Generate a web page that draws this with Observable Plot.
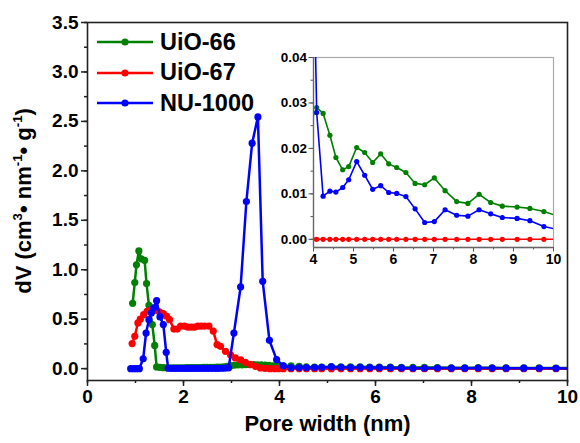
<!DOCTYPE html>
<html>
<head>
<meta charset="utf-8">
<script src="https://cdn.jsdelivr.net/npm/d3@7"></script>
<script src="https://cdn.jsdelivr.net/npm/@observablehq/plot@0.6"></script>
<style>
  body { margin: 0; background: #fff; }
  #wrap { position: relative; width: 580px; height: 443px; overflow: hidden;
          font-family: "Liberation Sans", Arial, sans-serif; color: #000; }
  #wrap > svg, #wrap > div { position: absolute; }
  .legend-row { position: absolute; display: flex; align-items: center; height: 30px;
                font-size: 23.5px; font-weight: bold; white-space: nowrap; }
  .legend-row svg { margin-right: 6px; }
  #ytitle { width: 300px; text-align: center; font-size: 22px; font-weight: bold;
            line-height: 26px; transform: rotate(-90deg); white-space: nowrap; }
  #ytitle sup { font-size: 0.6em; vertical-align: 0.7em; line-height: 0; }
</style>
</head>
<body>
<div id="wrap"></div>
<script>
// Pore size distributions of three Zr-MOFs
const seriesNames = ["UiO-66", "UiO-67", "NU-1000"];
const seriesColors = ["#008000", "#ff0000", "#0000ff"];

// UiO-66
const uio66Width = [0.94, 0.985, 1.02, 1.07, 1.12, 1.19, 1.23, 1.28, 1.35, 1.40,
  1.44, 1.51, 1.58, 1.65, 1.72, 1.79, 1.86, 1.93, 2.00, 2.07,
  2.14, 2.21, 2.28, 2.35, 2.42, 2.49, 2.56, 2.63, 2.70, 2.77,
  2.84, 2.91, 2.98, 3.06, 3.14, 3.22, 3.30, 3.38, 3.46, 3.54,
  3.62, 3.70, 3.78, 3.86, 3.94,
  4.08, 4.24, 4.41, 4.56, 4.73, 4.88, 5.08, 5.28, 5.48, 5.68, 5.88, 6.08, 6.31,
  6.54, 6.78, 7.02, 7.29, 7.58, 7.86, 8.14, 8.43, 8.72, 9.09, 9.41, 9.76, 10.15];
const uio66DV = [0.66, 0.87, 1.05, 1.19, 1.11, 1.095, 0.86, 0.64, 0.445, 0.235,
  0.017, 0.012, 0.010, 0.009, 0.009, 0.009, 0.009, 0.009, 0.009, 0.010,
  0.010, 0.010, 0.011, 0.011, 0.012, 0.012, 0.013, 0.014, 0.015, 0.016,
  0.018, 0.024, 0.030, 0.034, 0.037, 0.039, 0.040, 0.041, 0.040, 0.039,
  0.037, 0.035, 0.032, 0.029, 0.026,
  0.0290, 0.0277, 0.0229, 0.0180, 0.0153, 0.0160, 0.0202, 0.0191, 0.0169, 0.0188, 0.0166, 0.0158, 0.0147,
  0.0123, 0.0120, 0.0135, 0.0107, 0.0083, 0.0079, 0.0099, 0.0081, 0.0073, 0.0071, 0.0068, 0.0061, 0.0050];

// UiO-67
const uio67Width = [0.93, 0.985, 1.05, 1.10, 1.17, 1.24, 1.30, 1.36, 1.43, 1.50,
  1.58, 1.65, 1.71, 1.80, 1.87, 1.94, 2.02, 2.09, 2.16, 2.23,
  2.30, 2.37, 2.44, 2.53, 2.62, 2.70, 2.77, 2.875, 2.98, 3.08,
  3.19, 3.29, 3.40, 3.50, 3.60, 3.70, 3.80, 3.90, 3.98,
  4.08, 4.24, 4.41, 4.56, 4.73, 4.88, 5.08, 5.28, 5.48, 5.68, 5.88, 6.08, 6.31,
  6.54, 6.78, 7.02, 7.29, 7.58, 7.86, 8.14, 8.43, 8.72, 9.09, 9.41, 9.76, 10.15];
const uio67DV = [0.253, 0.327, 0.462, 0.50, 0.546, 0.58, 0.59, 0.60, 0.59, 0.575,
  0.556, 0.529, 0.495, 0.40, 0.40, 0.43, 0.43, 0.42, 0.42, 0.42,
  0.43, 0.43, 0.43, 0.43, 0.38, 0.243, 0.226, 0.175, 0.14, 0.108,
  0.09, 0.064, 0.04, 0.023, 0.007, 0.002, 0, 0, 0,
  0, 0, 0, 0, 0, 0, 0, 0, 0, 0, 0, 0, 0,
  0, 0, 0, 0, 0, 0, 0, 0, 0, 0, 0, 0, 0];

// NU-1000
const nu1000Width = [0.90, 0.96, 1.02, 1.08, 1.16, 1.22, 1.28, 1.33, 1.38, 1.44,
  1.51, 1.58, 1.64, 1.68, 1.75, 1.82, 1.89, 1.96, 2.03, 2.10,
  2.17, 2.24, 2.31, 2.38, 2.45, 2.52, 2.59, 2.66, 2.73, 2.80,
  2.87, 2.94, 3.05, 3.19, 3.31, 3.43, 3.55, 3.65, 3.79, 3.94,
  4.08, 4.24, 4.41, 4.56, 4.73, 4.88, 5.08, 5.28, 5.48, 5.68, 5.88, 6.08, 6.31,
  6.54, 6.78, 7.02, 7.29, 7.58, 7.86, 8.14, 8.43, 8.72, 9.09, 9.41, 9.76, 10.15];
const nu1000DV = [0, 0, 0, 0, 0.10, 0.36, 0.495, 0.563, 0.614, 0.687,
  0.523, 0.445, 0.165, 0.004, 0.002, 0.002, 0.002, 0.002, 0.002, 0.002,
  0.002, 0.002, 0.002, 0.002, 0.002, 0.002, 0.003, 0.003, 0.003, 0.004,
  0.005, 0.008, 0.36, 0.826, 1.69, 2.28, 2.545, 0.883, 0.286, 0.091,
  0.0279, 0.0095, 0.0106, 0.0104, 0.0114, 0.0131, 0.0171, 0.0141, 0.0110, 0.0118, 0.0103, 0.0101, 0.0094,
  0.0067, 0.0037, 0.0039, 0.0065, 0.0053, 0.0051, 0.0065, 0.0056, 0.0048, 0.0046, 0.0041, 0.0028, 0.0021];

// Axis ticks
const xTicks = [0, 2, 4, 6, 8, 10];
const yTicks = [0, 0.5, 1.0, 1.5, 2.0, 2.5, 3.0, 3.5];
const insetXTicks = [4, 5, 6, 7, 8, 9, 10];
const insetYTicks = [0, 0.01, 0.02, 0.03, 0.04];
const xTitle = "Pore width (nm)";

const xDomain = [0, 10];
const yDomain = [-0.12, 3.5];
const insetXDomain = [4, 10];
const insetYDomain = [-0.0018, 0.04];

const widths = [uio66Width, uio67Width, nu1000Width];
const values = [uio66DV, uio67DV, nu1000DV];
const series = seriesNames.map((name, k) =>
  widths[k].map((w, i) => ({name, width: w, dv: values[k][i]})));

const font = "Liberation Sans, Arial, sans-serif";
const ink = "#222";

function seriesMarks(r, sw) {
  return series.flatMap((rows, k) => [
    Plot.line(rows, {x: "width", y: "dv", stroke: seriesColors[k], strokeWidth: sw, clip: true}),
    Plot.dot(rows, {x: "width", y: "dv", fill: seriesColors[k], r, clip: true})
  ]);
}

const main = Plot.plot({
  width: 580, height: 443,
  marginLeft: 87, marginRight: 13, marginTop: 22, marginBottom: 63,
  x: {domain: xDomain},
  y: {domain: yDomain},
  style: {fontFamily: font, fontWeight: "bold", color: ink, background: "transparent", overflow: "visible"},
  marks: [
    Plot.axisX({ticks: d3.range(0, 10.01, 1), tickSize: 3, text: null, label: null, strokeWidth: 1.5}),
    Plot.axisX({ticks: xTicks, tickSize: 6, tickPadding: 3, fontSize: 19, label: null, strokeWidth: 1.5,
                tickFormat: d3.format("d"), fill: "#000"}),
    Plot.axisY({ticks: d3.range(0, 3.51, 0.25), tickSize: 3, text: null, label: null, strokeWidth: 1.5}),
    Plot.axisY({ticks: yTicks, tickSize: 6, tickPadding: 3, fontSize: 19, label: null, strokeWidth: 1.5,
                tickFormat: d3.format(".1f"), fill: "#000"}),
    ...seriesMarks(3.6, 2.5),
    Plot.frame({stroke: ink, strokeWidth: 1.6}),
    Plot.text([xTitle], {frameAnchor: "bottom", dy: 50, fontSize: 22, fontWeight: "bold", fill: "#000"})
  ]
});
main.style.left = "0px";
main.style.top = "0px";

const inset = Plot.plot({
  width: 300, height: 230,
  marginLeft: 43, marginRight: 17, marginTop: 12, marginBottom: 28,
  x: {domain: insetXDomain},
  y: {domain: insetYDomain},
  style: {fontFamily: font, fontWeight: "bold", color: "#555", background: "transparent", overflow: "visible"},
  marks: [
    Plot.frame({stroke: "#aaa", strokeWidth: 1.2}),
    Plot.axisX({ticks: d3.range(4, 10.01, 0.5), tickSize: 2.5, text: null, label: null}),
    Plot.axisX({ticks: insetXTicks, tickSize: 4.5, tickPadding: 2, fontSize: 14, label: null,
                tickFormat: d3.format("d"), fill: "#000"}),
    Plot.axisY({ticks: d3.range(0, 0.0401, 0.005), tickSize: 2.5, text: null, label: null}),
    Plot.axisY({ticks: insetYTicks, tickSize: 4.5, tickPadding: 2, fontSize: 13.5, label: null,
                tickFormat: d3.format(".2f"), fill: "#000"}),
    ...seriesMarks(2.6, 1.6),
    Plot.ruleX([insetXDomain[0]], {stroke: "#666", strokeWidth: 1.3}),
    Plot.ruleY([insetYDomain[0]], {stroke: "#666", strokeWidth: 1.3})
  ]
});
inset.style.left = "270px";
inset.style.top = "45px";

const wrap = document.getElementById("wrap");
wrap.appendChild(main);
wrap.appendChild(inset);

// Legend (line + marker swatches)
seriesNames.forEach((name, k) => {
  const row = document.createElement("div");
  row.className = "legend-row";
  row.style.left = "96px";
  row.style.top = (27 + k * 30.5) + "px";
  const c = seriesColors[k];
  row.innerHTML = `<svg width="58" height="14"><line x1="1" x2="57" y1="7" y2="7" stroke="${c}" stroke-width="2.5"/>` +
    `<circle cx="29" cy="7" r="3.6" fill="${c}"/></svg><span>${name}</span>`;
  wrap.appendChild(row);
});

// Y-axis title with superscripts
const yt = document.createElement("div");
yt.id = "ytitle";
yt.innerHTML = "dV (cm<sup>3</sup>• nm<sup>-1</sup>• g<sup>-1</sup>)";
yt.style.left = (24 - 150) + "px";
yt.style.top = (201 - 13) + "px";
wrap.appendChild(yt);
</script>
</body>
</html>
